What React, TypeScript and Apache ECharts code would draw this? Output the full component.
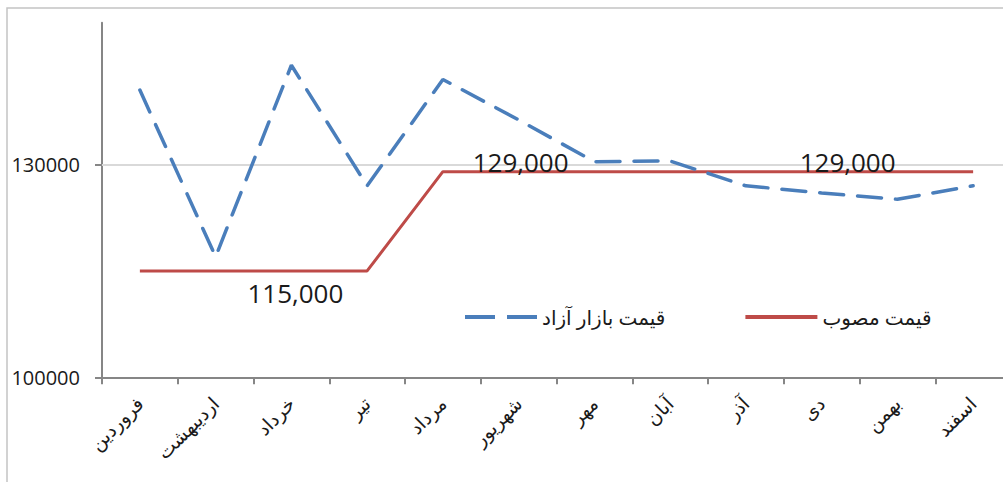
import React, { useEffect, useRef } from "react";
import * as echarts from "echarts";

const categories = ["فروردین", "اردیبهشت", "خرداد", "تیر", "مرداد", "شهریور", "مهر", "آبان", "آذر", "دی", "بهمن", "اسفند"];
const marketPrice = [140500, 117000, 144000, 127000, 142000, 136300, 130400, 130500, 127000, 126000, 125100, 127000];
const approvedPrice = [115000, 115000, 115000, 115000, 129000, 129000, 129000, 129000, 129000, 129000, 129000, 129000];
const yTicks = [100000, 130000];
const gridValues = [130000];
const seriesNames = ["قیمت بازار آزاد", "قیمت مصوب"];

const FONT = "'Open Sans', 'DejaVu Sans', sans-serif";

export default function App() {
  const ref = useRef<HTMLDivElement>(null);
  useEffect(() => {
    if (!ref.current) return;
    const chart = echarts.init(ref.current, null, { renderer: "svg" });
    const fmt = (v: number) => v.toLocaleString("en-US");
    const labelCfg: Record<number, any> = {
      2: { position: "bottom", distance: 9, offset: [4, 0] },
      5: { position: "top", distance: 0, offset: [2, 3] },
      9: { position: "top", distance: 0, offset: [26, 3] },
    };
    const redData = approvedPrice.map((v, i) =>
      labelCfg[i]
        ? {
            value: v,
            label: {
              show: true,
              ...labelCfg[i],
              formatter: (p: any) => fmt(p.value),
              fontSize: 26,
              color: "#1a1a1a",
              fontFamily: FONT,
            },
          }
        : v
    );
    chart.setOption({
      animation: false,
      backgroundColor: "#ffffff",
      textStyle: { fontFamily: FONT },
      graphic: [
        {
          type: "rect",
          shape: { x: 7, y: 8, width: 1030, height: 490 },
          style: { fill: "none", stroke: "#C4C4C4", lineWidth: 1.5 },
          silent: true,
          z: -10,
        },
      ],
      legend: {
        left: 460,
        top: 302,
        itemWidth: 72,
        itemHeight: 4,
        itemGap: 80,
        textStyle: { fontSize: 20, color: "#1a1a1a", fontFamily: FONT },
        itemStyle: { borderWidth: 0 },
        data: [
          { name: seriesNames[0], icon: "path://M0,0h30v4h-30z M42,0h30v4h-30z" },
          { name: seriesNames[1], icon: "path://M0,0h72v4h-72z" },
        ],
      },
      grid: { left: 102, top: 22.7, right: 9, bottom: 104.7, containLabel: false },
      xAxis: {
        type: "category",
        data: categories,
        boundaryGap: true,
        axisLine: { show: true, lineStyle: { color: "#868686", width: 2 } },
        axisTick: { show: true, length: 7, lineStyle: { color: "#868686", width: 2 } },
        axisLabel: {
          rotate: 45,
          margin: 23,
          fontSize: 19,
          color: "#1a1a1a",
          fontFamily: FONT,
          interval: 0,
        },
        splitLine: { show: false },
      },
      yAxis: {
        type: "value",
        min: 100000,
        max: 150000,
        axisLine: { show: true, lineStyle: { color: "#868686", width: 2 } },
        axisTick: { show: true, length: 7, customValues: yTicks, lineStyle: { color: "#868686", width: 2 } },
        axisLabel: {
          customValues: yTicks,
          margin: 22,
          fontSize: 20,
          color: "#1a1a1a",
          fontFamily: FONT,
          formatter: (v: number) => (yTicks.indexOf(v) >= 0 ? String(v) : ""),
        },
        splitLine: { show: false },
      },
      series: [
        {
          name: seriesNames[0],
          type: "line",
          data: marketPrice,
          symbol: "none",
          showSymbol: false,
          color: "#4A7EBB",
          lineStyle: { color: "#4A7EBB", width: 3.5, type: [24, 14], cap: "round" },
          z: 3,
        },
        {
          name: seriesNames[1],
          type: "line",
          data: redData,
          symbol: "circle",
          symbolSize: 0.1,
          showSymbol: true,
          color: "#BE4B48",
          lineStyle: { color: "#BE4B48", width: 3, type: "solid" },
          z: 2,
          markLine: {
            silent: true,
            z: 1,
            symbol: "none",
            label: { show: false },
            lineStyle: { color: "#D9D9D9", width: 2, type: "solid" },
            data: gridValues.map((v) => ({ yAxis: v })),
          },
        },
      ],
    });
    return () => chart.dispose();
  }, []);
  return <div ref={ref} style={{ position: "fixed", left: 0, top: 0, width: 1020, height: 482 }} />;
}
